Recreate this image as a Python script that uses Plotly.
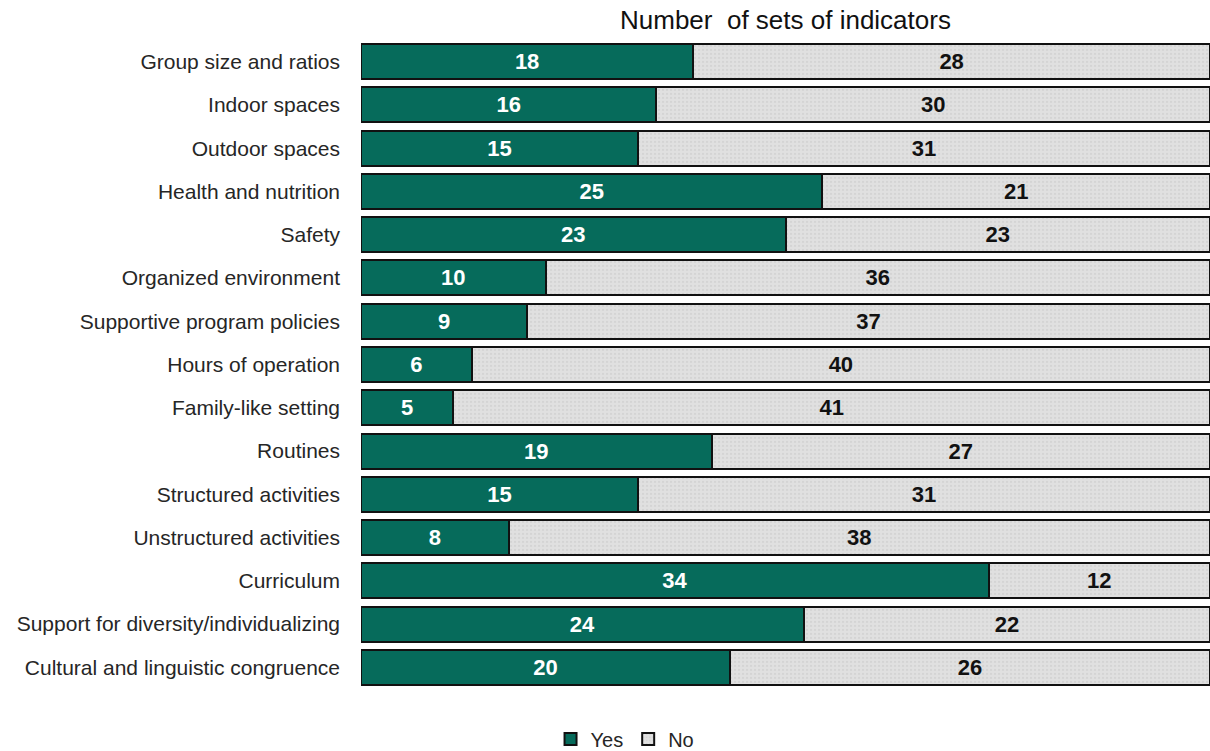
import plotly.graph_objects as go

categories = [
    "Group size and ratios", "Indoor spaces", "Outdoor spaces", "Health and nutrition",
    "Safety", "Organized environment", "Supportive program policies", "Hours of operation",
    "Family-like setting", "Routines", "Structured activities", "Unstructured activities",
    "Curriculum", "Support for diversity/individualizing", "Cultural and linguistic congruence",
]
yes_vals = [18, 16, 15, 25, 23, 10, 9, 6, 5, 19, 15, 8, 34, 24, 20]
no_vals = [28, 30, 31, 21, 23, 36, 37, 40, 41, 27, 31, 38, 12, 22, 26]

FONT = "Liberation Sans, Arial, sans-serif"

fig = go.Figure()
fig.add_trace(go.Bar(
    y=categories, x=yes_vals, orientation="h", name="Yes",
    marker=dict(color="#066B5B", line=dict(color="#111111", width=2)),
    text=yes_vals, textposition="inside", insidetextanchor="middle",
    textfont=dict(color="white", size=22, family=FONT, weight="bold"),
))
fig.add_trace(go.Bar(
    y=categories, x=no_vals, orientation="h", name="No",
    marker=dict(color="#DCDCDC", line=dict(color="#111111", width=2),
                pattern=dict(shape=".", fgcolor="#C8C8C8", bgcolor="#E0E0E0", size=4, solidity=0.25)),
    text=no_vals, textposition="inside", insidetextanchor="middle",
    textfont=dict(color="#111111", size=22, family=FONT, weight="bold"),
))

fig.update_layout(
    barmode="stack",
    width=1210, height=751,
    margin=dict(l=361, r=0, t=40, b=62, autoexpand=False),
    paper_bgcolor="white", plot_bgcolor="white",
    bargap=0.19,
    font=dict(family=FONT, size=21, color="#262626"),
    xaxis=dict(range=[0, 46], showticklabels=False, showgrid=False, zeroline=False,
               fixedrange=True, automargin=False),
    yaxis=dict(autorange="reversed", showgrid=False, ticklabelstandoff=20, automargin=False,
               tickfont=dict(size=21, color="#262626")),
    showlegend=True,
    legend=dict(orientation="h", x=0.311, xanchor="center",
                y=-0.077, yanchor="middle", font=dict(size=20), traceorder="normal",
                itemwidth=30),
    uniformtext=dict(mode="show", minsize=10),
)
fig.add_annotation(text="Number  of sets of indicators", xref="paper", yref="paper",
                   x=0.5, y=1, yanchor="bottom", yshift=3, showarrow=False,
                   font=dict(size=26, family=FONT, color="#111111"))

post = (
    "document.documentElement.style.margin='0';"
    "document.body.style.margin='0';document.body.style.padding='0';"
    "document.body.style.overflow='hidden';"
    "var gd=document.getElementById('{plot_id}');"
    "Plotly.relayout(gd,{width:1210,height:751});"
)
fig.write_html("out.html", post_script=post, config={"displayModeBar": False})
